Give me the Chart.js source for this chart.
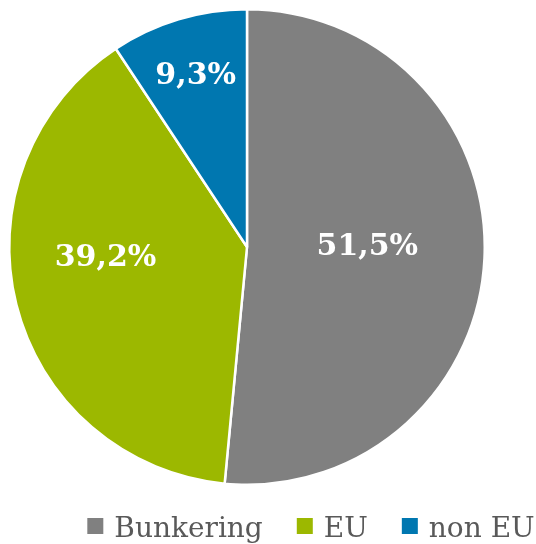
<!DOCTYPE html>
<html>
<head>
<meta charset="utf-8">
<script src="https://cdn.jsdelivr.net/npm/chart.js@4"></script>
<style>
  html, body { margin: 0; padding: 0; background: #fff; }
  #wrap { width: 536px; height: 544px; }
</style>
</head>
<body>
<div id="wrap"><canvas id="pie" width="536" height="544"></canvas></div>
<script>
const categories = ["Bunkering", "EU", "non EU"];
const shares = [51.5, 39.2, 9.3];
const colors = ["#808080", "#9cb800", "#0077b0"];

// where each label sits: fraction along the slice angle, fraction of the radius
const labelPlace = [
  { a: 0.485, r: 0.506 },
  { a: 0.568, r: 0.597 },
  { a: 0.5, r: 0.749 },
];

const fmt = (v) => v.toFixed(1).replace(".", ",") + "%";

const sliceLabels = {
  id: "sliceLabels",
  afterDatasetsDraw(chart) {
    const ctx = chart.ctx;
    const arcs = chart.getDatasetMeta(0).data;
    ctx.save();
    ctx.fillStyle = "#fff";
    ctx.font = "bold 30px 'DejaVu Serif'";
    ctx.textAlign = "center";
    ctx.textBaseline = "middle";
    arcs.forEach((arc, i) => {
      const p = arc.getProps(["x", "y", "startAngle", "endAngle", "outerRadius"], true);
      const ang = p.startAngle + (p.endAngle - p.startAngle) * labelPlace[i].a;
      const rr = p.outerRadius * labelPlace[i].r;
      ctx.fillText(fmt(shares[i]), p.x + Math.cos(ang) * rr, p.y + Math.sin(ang) * rr);
    });
    ctx.restore();
  },
};

const bottomLegend = {
  id: "bottomLegend",
  afterDraw(chart) {
    const ctx = chart.ctx;
    const box = 16, gapIn = 11, gapOut = 34;
    ctx.save();
    ctx.font = "28px 'DejaVu Serif'";
    ctx.textBaseline = "alphabetic";
    ctx.textAlign = "left";
    const widths = categories.map((c) => ctx.measureText(c).width);
    let total = 0;
    widths.forEach((w, i) => {
      total += box + gapIn + w + (i < widths.length - 1 ? gapOut : 0);
    });
    let x = 311 - total / 2;
    const base = 537;
    categories.forEach((c, i) => {
      ctx.fillStyle = colors[i];
      ctx.fillRect(x, 518, box, box);
      x += box + gapIn;
      ctx.fillStyle = "#595959";
      ctx.fillText(c, x, base);
      x += widths[i] + gapOut;
    });
    ctx.restore();
  },
};

const data = {
  labels: categories,
  datasets: [
    {
      data: shares,
      backgroundColor: colors,
      borderColor: "#fff",
      borderWidth: 2.5,
    },
  ],
};

const config = {
  type: "pie",
  data: data,
  options: {
    responsive: false,
    animation: false,
    layout: { padding: { left: 8, top: 8, right: 50, bottom: 58 } },
    plugins: {
      legend: { display: false },
      tooltip: { enabled: false },
    },
  },
  plugins: [sliceLabels, bottomLegend],
};

const chart = new Chart(document.getElementById("pie"), config);
</script>
</body>
</html>
